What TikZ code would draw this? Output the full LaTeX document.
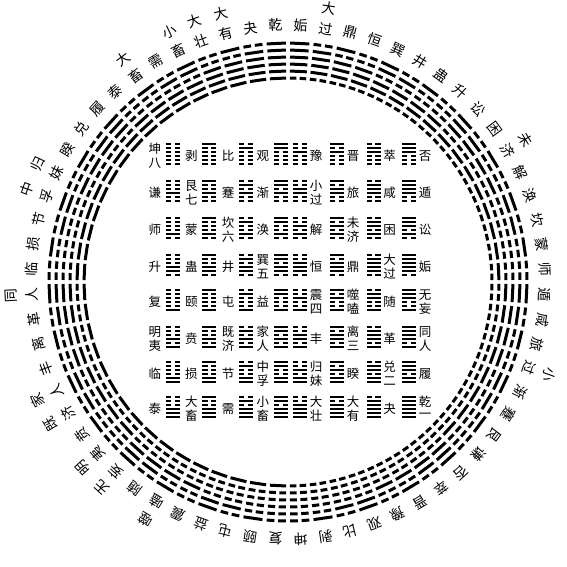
\documentclass[tikz,border=0pt]{standalone}
\usepackage{fontspec}
\setmainfont{Noto Sans CJK SC}
\tikzset{
  ringline/.style={line width=3pt, line cap=butt},
  sqline/.style={line width=2.2pt, line cap=butt},
  cn/.style={inner sep=0pt, anchor=center, font=\fontsize{14}{14}\selectfont},
  sn/.style={inner sep=0pt, anchor=center, font=\fontsize{12.5}{12.5}\selectfont}
}
\newcommand\ringhex[2]{%
  \foreach \i in {0,...,5}{%
    \pgfmathtruncatemacro\bit{mod(floor(#2/2^(5-\i)),2)}%
    \pgfmathsetmacro\rr{204+7*\i}%
    \ifnum\bit=1
      \draw[ringline] (#1-2.3:\rr) -- (#1+2.3:\rr);
    \else
      \draw[ringline] (#1-2.3:\rr) -- (#1-0.45:\rr) (#1+0.45:\rr) -- (#1+2.3:\rr);
    \fi
  }}
\newcommand\sqhex[3]{%
  \foreach \i in {0,...,5}{%
    \pgfmathtruncatemacro\bit{mod(floor(#3/2^(5-\i)),2)}%
    \pgfmathsetmacro\yy{#2-10+4*\i}%
    \ifnum\bit=1
      \draw[sqline] (#1-7,\yy) -- (#1+7,\yy);
    \else
      \draw[sqline] (#1-7,\yy) -- (#1-1.6,\yy) (#1+1.6,\yy) -- (#1+7,\yy);
    \fi
  }}
\newcommand\cname[3]{%
  \if#3-%
    \node[cn, rotate=#1-90] at (#1:257) {#2};
  \else
    \node[cn, rotate=#1-90] at (#1:277) {#2};
    \node[cn, rotate=#1-90] at (#1:256) {#3};
  \fi}
\newcommand\sname[4]{%
  \if#4-%
    \node[sn] at (#1,#2) {#3};
  \else
    \node[sn] at (#1,#2+7) {#3};
    \node[sn] at (#1,#2-7) {#4};
  \fi}
\begin{document}
\begin{tikzpicture}[x=1pt,y=1pt]
\useasboundingbox (-288,-285) rectangle (279,282);
% ring of hexagrams
\foreach \v in {0,...,63}{%
  \ifnum\v>31
    \pgfmathsetmacro\t{92.8125+5.625*(63-\v)}%
  \else
    \pgfmathsetmacro\t{87.1875-5.625*(31-\v)}%
  \fi
  \ringhex{\t}{\v}%
}
% names around the circle, left half
\foreach \ca/\cb [count=\k from 0] in {乾/-,夬/-,大/有,大/壮,小/畜,需/-,大/畜,泰/-,履/-,兑/-,睽/-,归/妹,中/孚,节/-,损/-,临/-,同/人,革/-,离/-,丰/-,家/人,既/济,贲/-,明/夷,无/妄,随/-,噬/嗑,震/-,益/-,屯/-,颐/-,复/-}{%
  \pgfmathsetmacro\t{92.8125+5.625*\k}%
  \cname{\t}{\ca}{\cb}%
}
% names around the circle, right half
\foreach \ca/\cb [count=\k from 0] in {姤/-,大/过,鼎/-,恒/-,巽/-,井/-,蛊/-,升/-,讼/-,困/-,未/济,解/-,涣/-,坎/-,蒙/-,师/-,遁/-,咸/-,旅/-,小/过,渐/-,蹇/-,艮/-,谦/-,否/-,萃/-,晋/-,豫/-,观/-,比/-,剥/-,坤/-}{%
  \pgfmathsetmacro\t{87.1875-5.625*\k}%
  \cname{\t}{\ca}{\cb}%
}
% square
\foreach \ca/\cb [count=\k from 0] in {坤/八,剥/-,比/-,观/-,豫/-,晋/-,萃/-,否/-,
  谦/-,艮/七,蹇/-,渐/-,小/过,旅/-,咸/-,遁/-,
  师/-,蒙/-,坎/六,涣/-,解/-,未/济,困/-,讼/-,
  升/-,蛊/-,井/-,巽/五,恒/-,鼎/-,大/过,姤/-,
  复/-,颐/-,屯/-,益/-,震/四,噬/嗑,随/-,无/妄,
  明/夷,贲/-,既/济,家/人,丰/-,离/三,革/-,同/人,
  临/-,损/-,节/-,中/孚,归/妹,睽/-,兑/二,履/-,
  泰/-,大/畜,需/-,小/畜,大/壮,大/有,夬/-,乾/一}{%
  \pgfmathtruncatemacro\r{floor(\k/8)}%
  \pgfmathtruncatemacro\c{mod(\k,8)}%
  \pgfmathsetmacro\hx{{-115,-78.5,-42,-7,12,49,85.5,121}[\c]}%
  \pgfmathsetmacro\hy{{128,91,54,17,-18,-55,-90,-125}[\r]}%
  \pgfmathsetmacro\nx{\c<4 ? \hx-18 : \hx+16}%
  \pgfmathsetmacro\ny{\hy-2}%
  \sqhex{\hx}{\hy}{\k}%
  \sname{\nx}{\ny}{\ca}{\cb}%
}
\end{tikzpicture}
\end{document}
